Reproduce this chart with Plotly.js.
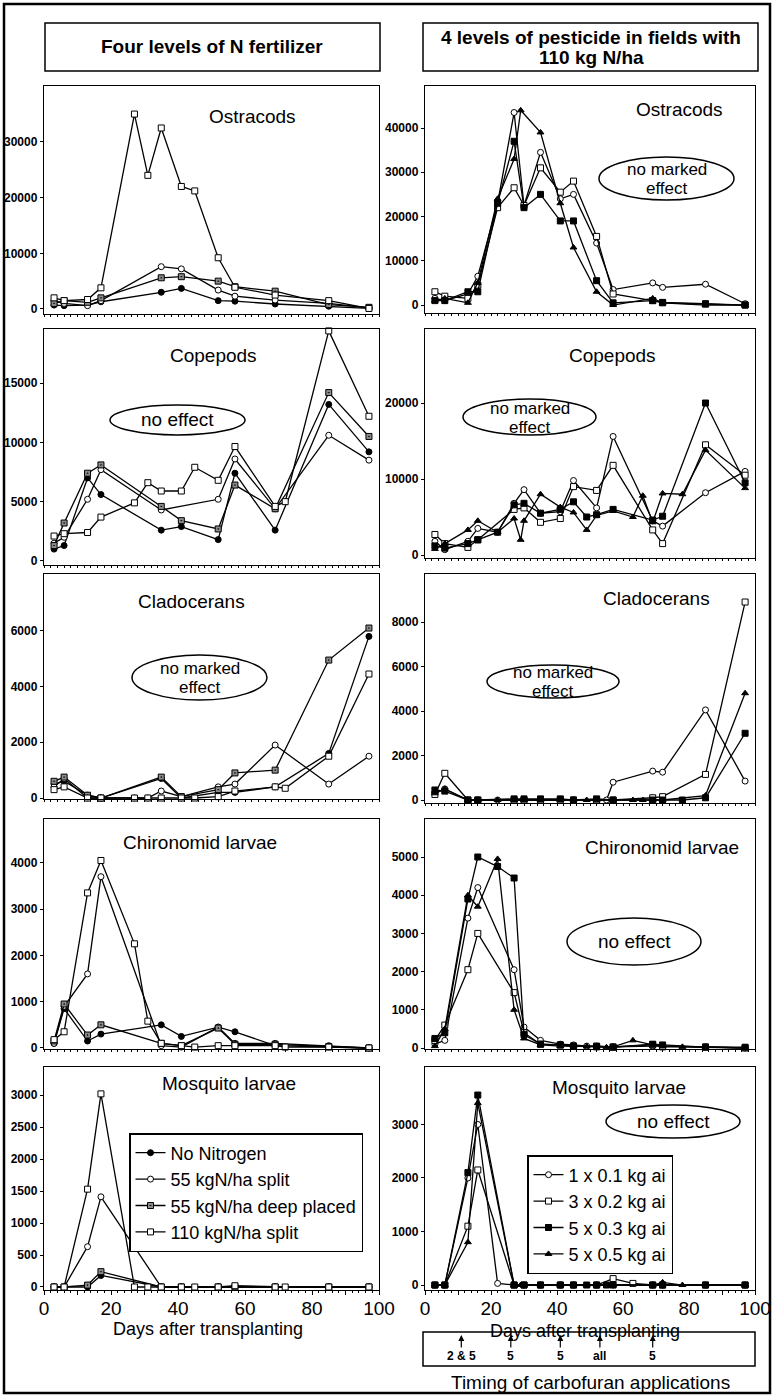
<!DOCTYPE html>
<html><head><meta charset="utf-8">
<script src="https://cdn.plot.ly/plotly-3.0.1.min.js"></script>
<style>html,body{margin:0;padding:0;background:#fff}#chart{width:774px;height:1395px}</style>
</head><body><div id="chart"></div>
<script>
// ---------------- DATA ----------------
const L_DAYS = [3, 6, 13, 17, 27, 31, 35, 41, 45, 52, 57, 69, 72, 85, 97];
const R_DAYS = [3, 6, 13, 16, 22, 27, 29, 30, 35, 41, 45, 49, 52, 55, 57, 63, 66, 69, 72, 78, 85, 97];
const L_NAMES = ["No Nitrogen", "55 kgN/ha split", "55 kgN/ha deep placed", "110 kgN/ha split"];
const R_NAMES = ["1 x 0.1 kg ai", "3 x 0.2 kg ai", "5 x 0.3 kg ai", "5 x 0.5 kg ai"];
const TAXA = ["Ostracods", "Copepods", "Cladocerans", "Chironomid larvae", "Mosquito larvae"];

// Left column: four levels of N fertilizer
const ostraL_noN  = [700, 600, 700, 1300, null, null, 3000, 3700, null, 1500, 1400, 900, null, 500, 100];
const ostraL_s55  = [1500, 1000, 600, 1500, null, null, 7600, 7200, null, 3400, 2300, 1600, null, 1000, 200];
const ostraL_d55  = [1000, 1500, 1200, 2000, null, null, 5600, 5800, null, 5000, 4000, 3200, null, 800, 300];
const ostraL_s110 = [2000, 1500, 1700, 3800, 35000, 24000, 32500, 22000, 21200, 9200, 3900, 2500, null, 1500, 100];

const copeL_noN  = [1000, 1300, 7000, 5600, null, null, 2600, 2900, null, 1800, 7400, 2600, null, 13200, 9200];
const copeL_s55  = [1500, 2000, 5200, 7700, null, null, 4300, null, null, 5200, 8600, 4400, null, 10600, 8500];
const copeL_d55  = [1300, 3200, 7400, 8100, null, null, 4600, 3400, null, 2700, 6400, 4400, null, 14200, 10500];
const copeL_s110 = [2100, 2300, 2400, 3700, 4900, 6600, 5900, 5900, 7900, 6800, 9650, 4600, 5000, 19400, 12200];

const cladL_noN  = [500, 600, 100, 0, null, null, 700, 0, null, 200, 200, 400, null, 1600, 5800];
const cladL_s55  = [400, 700, 0, 0, 0, 0, 250, 50, null, 400, 500, 1900, null, 500, 1500];
const cladL_d55  = [600, 750, 100, 0, null, null, 750, 50, null, 300, 900, 1000, null, 4950, 6100];
const cladL_s110 = [300, 400, 0, 0, 0, 0, 0, 0, 0, 50, 250, 400, 350, 1500, 4450];

const chirL_noN  = [100, 850, 150, 300, null, null, 500, 250, null, 450, 350, 50, null, 30, 0];
const chirL_s55  = [100, 900, 1600, 3700, null, null, 50, 20, null, 450, 100, 100, null, 50, 0];
const chirL_d55  = [150, 950, 280, 500, null, null, 100, 50, null, 430, 80, 80, null, 30, 0];
const chirL_s110 = [180, 350, 3350, 4050, 2250, 580, 100, 50, 20, 50, 50, 50, 20, 20, 0];

const mosqL_noN  = [0, 0, 0, 180, null, null, 0, 0, null, 0, 0, 0, null, 0, 0];
const mosqL_s55  = [0, 0, 630, 1410, null, null, 0, 0, null, 0, 0, 0, null, 0, 0];
const mosqL_d55  = [0, 0, 30, 240, null, null, 0, 0, null, 0, 0, 0, null, 0, 0];
const mosqL_s110 = [0, 0, 1530, 3020, 0, 0, 0, 0, 0, 0, 20, 0, 0, 0, 0];

// Right column: four levels of pesticide
const ostraR_c01 = [1500, 1000, 2500, 6500, 23000, 43500, null, 22500, 34500, 24000, 25000, null, 14000, null, 3500, null, null, 5000, 4000, null, 4700, 300];
const ostraR_c02 = [3000, 2000, 1500, 4500, 22000, 26500, null, 22500, 31000, 25500, 28000, null, 15500, null, 2500, null, null, 1000, 500, null, 200, 0];
const ostraR_c03 = [1000, 1000, 3000, 3000, 23000, 37000, null, 22000, 25000, 19000, 19000, null, 5500, null, 500, null, null, 1000, 600, null, 300, 0];
const ostraR_c05 = [1000, 1500, 500, 5000, 24000, 33000, 44000, null, 39000, 23000, 13000, null, 3000, null, 0, null, null, 1500, 500, null, 0, 0];

const copeR_c01 = [1800, 700, 1800, 3500, 3000, 6800, null, 8600, 5500, 5700, 9800, null, 6200, null, 15600, null, null, 4500, 3800, null, 8200, 11000];
const copeR_c02 = [2700, 1500, 1000, 2000, null, 6000, null, 6200, 4300, 4800, 9000, null, 8500, null, 11800, null, null, 3300, 1500, null, 14500, 10500];
const copeR_c03 = [1200, 900, 1500, 2000, 3000, 6600, null, 6800, 5500, 6000, 7000, 5000, 5300, null, 6000, null, null, 4600, 5100, null, 20000, 9500];
const copeR_c05 = [800, 1500, 3300, 4500, 3000, 4800, 2000, 4500, 8000, 6300, 5600, 3300, 5200, null, 5800, 5000, 7800, 4300, 8100, 8000, 13800, 8800];

const cladR_c01 = [300, 500, 0, 0, 0, 0, null, 0, 0, 0, 0, null, 0, 0, 800, null, null, 1300, 1250, null, 4050, 850];
const cladR_c02 = [250, 1200, 0, 0, null, 0, null, 0, 0, 0, 0, null, 0, null, 0, null, null, 100, 150, null, 1150, 8900];
const cladR_c03 = [450, 400, 0, 0, null, 50, null, 50, 50, 50, 0, null, 50, null, 0, null, null, 0, 0, 0, 100, 3000];
const cladR_c05 = [300, 500, 0, 0, 0, 0, null, 0, 0, 0, 0, 0, 0, null, 0, 0, 0, 0, 0, null, 200, 4800];

const chirR_c01 = [100, 200, 3400, 4200, null, 2050, null, 550, 200, 100, 80, 50, 50, null, 30, null, null, 50, 50, null, 30, 0];
const chirR_c02 = [200, 600, 2050, 3000, null, 1450, null, 400, 100, 80, 50, null, 30, null, 30, null, null, 80, 30, null, 30, 0];
const chirR_c03 = [250, 400, 3900, 5000, 4750, 4450, null, 350, 100, 80, 50, null, 50, null, 20, null, null, 100, 80, null, 20, 20];
const chirR_c05 = [50, 500, 4000, 3700, 4950, 1000, null, 250, 80, 50, 50, 40, 40, 20, 30, 200, null, 80, 50, 30, 20, 0];

const mosqR_c01 = [0, 0, 2000, 3000, 30, 0, null, 0, 0, 0, 0, null, 0, null, 0, null, null, 0, 0, null, 0, 0];
const mosqR_c02 = [0, 0, 1100, 2150, null, 0, null, 0, 0, 0, 0, null, 0, null, 120, 30, null, 0, 0, null, 0, 0];
const mosqR_c03 = [0, 0, 2100, 3550, null, 0, null, 0, 0, 0, 0, 0, 0, 0, 0, null, null, 0, 0, null, 0, 0];
const mosqR_c05 = [0, 0, 800, 3400, null, 0, 0, 0, 0, 0, 0, 0, 0, null, 0, null, null, 0, 50, 0, 0, 0];

const APP_DAYS = [11, 26, 41, 53, 69];
const APP_LABELS = ["2 & 5", "5", "5", "all", "5"];

// ---------------- LAYOUT / STYLE ----------------
const W = 774, H = 1395;
const FONT = 'Liberation Sans, Arial, Helvetica, sans-serif';
const px = p => p / W;
const py = p => 1 - p / H;

const COLS = [{x0: 44, x1: 379}, {x0: 425, x1: 755}];
const LEFT_STYLE = [
  {symbol: 'circle', fill: 'black'},
  {symbol: 'circle', fill: 'white'},
  {symbol: 'square-dot', fill: '#8a8a8a'},
  {symbol: 'square', fill: 'white'}
];
const RIGHT_STYLE = [
  {symbol: 'circle', fill: 'white'},
  {symbol: 'square', fill: 'white'},
  {symbol: 'square', fill: 'black'},
  {symbol: 'triangle-up', fill: 'black'}
];

const PANELS = [
  {col: 0, row: 0, top: 86,   bot: 314,  range: [-900, 40040],  ticks: [0, 10000, 20000, 30000], series: [ostraL_noN, ostraL_s55, ostraL_d55, ostraL_s110], title: [252, 117]},
  {col: 1, row: 0, top: 86,   bot: 313,  range: [-1800, 49490], ticks: [0, 10000, 20000, 30000, 40000], series: [ostraR_c01, ostraR_c02, ostraR_c03, ostraR_c05], title: [679, 110]},
  {col: 0, row: 1, top: 329,  bot: 565,  range: [-340, 19560],  ticks: [0, 5000, 10000, 15000], series: [copeL_noN, copeL_s55, copeL_d55, copeL_s110], title: [213, 355]},
  {col: 1, row: 1, top: 329,  bot: 558,  range: [-395, 29740],  ticks: [0, 10000, 20000], series: [copeR_c01, copeR_c02, copeR_c03, copeR_c05], title: [612, 355]},
  {col: 0, row: 2, top: 574,  bot: 799,  range: [-36, 8040],    ticks: [0, 2000, 4000, 6000], series: [cladL_noN, cladL_s55, cladL_d55, cladL_s110], title: [191, 601]},
  {col: 1, row: 2, top: 574,  bot: 803,  range: [-135, 10160],  ticks: [0, 2000, 4000, 6000, 8000], series: [cladR_c01, cladR_c02, cladR_c03, cladR_c05], title: [656, 598]},
  {col: 0, row: 3, top: 819,  bot: 1049, range: [-22, 4946],    ticks: [0, 1000, 2000, 3000, 4000], series: [chirL_noN, chirL_s55, chirL_d55, chirL_s110], title: [200, 843]},
  {col: 1, row: 3, top: 819,  bot: 1049, range: [-26, 5995],    ticks: [0, 1000, 2000, 3000, 4000, 5000], series: [chirR_c01, chirR_c02, chirR_c03, chirR_c05], title: [662, 847]},
  {col: 0, row: 4, top: 1067, bot: 1290, range: [-47, 3440],    ticks: [0, 500, 1000, 1500, 2000, 2500, 3000], series: [mosqL_noN, mosqL_s55, mosqL_d55, mosqL_s110], title: [229, 1083]},
  {col: 1, row: 4, top: 1067, bot: 1290, range: [-93, 4074],    ticks: [0, 1000, 2000, 3000], series: [mosqR_c01, mosqR_c02, mosqR_c03, mosqR_c05], title: [619, 1087]}
];

const ELLIPSES = [
  {x0: 599, x1: 734, y0: 157, y1: 200, lines: ['no marked', 'effect']},
  {x0: 110, x1: 245, y0: 405, y1: 435, lines: ['no effect']},
  {x0: 463, x1: 596, y0: 399, y1: 435, lines: ['no marked', 'effect']},
  {x0: 132, x1: 267, y0: 655, y1: 700, lines: ['no marked', 'effect']},
  {x0: 487, x1: 619, y0: 665, y1: 698, lines: ['no marked', 'effect']},
  {x0: 567, x1: 701, y0: 918, y1: 965, lines: ['no effect']},
  {x0: 606, x1: 740, y0: 1105, y1: 1138, lines: ['no effect']}
];

const traces = [];
const legendBase = {xanchor: 'left', yanchor: 'top', bgcolor: 'white', bordercolor: 'black',
  borderwidth: 1.5, font: {size: 18, family: FONT}, itemwidth: 30, tracegroupgap: 0};
const layout = {
  width: W, height: H,
  margin: {l: 0, r: 0, t: 0, b: 0},
  paper_bgcolor: 'white', plot_bgcolor: 'white',
  font: {family: FONT, color: 'black'},
  showlegend: true,
  legend: Object.assign({x: px(129), y: py(1133)}, legendBase),
  legend2: Object.assign({x: px(527), y: py(1155)}, legendBase),
  shapes: [], annotations: []
};

const XTICKS = [0, 10, 20, 30, 40, 50, 60, 70, 80, 90, 100];

PANELS.forEach((p, i) => {
  const n = i + 1;
  const sfx = n === 1 ? '' : String(n);
  const c = COLS[p.col];
  const bottomRow = p.row === 4;
  layout['xaxis' + sfx] = {
    domain: [px(c.x0), px(c.x1)], range: [0, 100], anchor: 'y' + sfx,
    showline: true, mirror: true, linecolor: 'black', linewidth: 1.2,
    ticks: 'outside', ticklen: 4, tickwidth: 1, tickcolor: 'black',
    tickvals: XTICKS, ticktext: XTICKS.map(v => (bottomRow && v % 20 === 0) ? String(v) : ''),
    showticklabels: bottomRow, tickfont: {size: 19, family: FONT}, ticklabelstandoff: -3,
    minor: {dtick: 2, tick0: 0, ticklen: 2, ticks: 'outside', tickcolor: 'black', showgrid: false},
    showgrid: false, zeroline: false, fixedrange: true
  };
  layout['yaxis' + sfx] = {
    domain: [py(p.bot), py(p.top)], range: p.range, anchor: 'x' + sfx,
    showline: true, mirror: true, linecolor: 'black', linewidth: 1.2,
    ticks: 'outside', ticklen: 3, tickwidth: 1, tickcolor: 'black',
    tickvals: p.ticks, ticktext: p.ticks.map(String),
    tickfont: {size: 12, family: FONT, weight: 700},
    showgrid: false, zeroline: false, fixedrange: true
  };
  const styles = p.col === 0 ? LEFT_STYLE : RIGHT_STYLE;
  const names = p.col === 0 ? L_NAMES : R_NAMES;
  const days = p.col === 0 ? L_DAYS : R_DAYS;
  p.series.forEach((vals, k) => {
    traces.push({
      type: 'scatter', mode: 'lines+markers', x: days, y: vals, connectgaps: true,
      xaxis: 'x' + sfx, yaxis: 'y' + sfx, name: names[k],
      legend: p.col === 0 ? 'legend' : 'legend2',
      showlegend: p.row === 0, cliponaxis: false,
      line: {color: 'black', width: 1.3},
      marker: {symbol: styles[k].symbol, color: styles[k].fill, size: 6, line: {color: 'black', width: 1}}
    });
  });
  layout.annotations.push({
    xref: 'paper', yref: 'paper', x: px(p.title[0]), y: py(p.title[1]),
    xanchor: 'center', yanchor: 'middle', showarrow: false,
    text: TAXA[p.row], font: {size: 19, family: FONT}
  });
});

// outer frame & header boxes & timing box
const rect = (x0, y0, x1, y1, w) => ({type: 'rect', xref: 'paper', yref: 'paper',
  x0: px(x0), x1: px(x1), y0: py(y1), y1: py(y0), line: {color: 'black', width: w}, layer: 'above'});
layout.shapes.push(rect(4, 4, 770, 1393, 2.5));
layout.shapes.push(rect(45, 23, 380, 71, 1.5));
layout.shapes.push(rect(423, 23, 758, 71, 1.5));
layout.shapes.push(rect(423, 1332, 755, 1366, 1.5));

const textAt = (x, y, text, size, extra) => Object.assign({xref: 'paper', yref: 'paper', x: px(x), y: py(y),
  showarrow: false, xanchor: 'center', yanchor: 'middle', text: text, font: {size: size, family: FONT}}, extra || {});

layout.annotations.push(textAt(212, 47, '<b>Four levels of N fertilizer</b>', 19));
layout.annotations.push(textAt(591, 38, '<b>4 levels of pesticide in fields with</b>', 19));
layout.annotations.push(textAt(591, 58, '<b>110 kg N/ha</b>', 19));

ELLIPSES.forEach(e => {
  layout.shapes.push({type: 'circle', xref: 'paper', yref: 'paper', x0: px(e.x0), x1: px(e.x1),
    y0: py(e.y1), y1: py(e.y0), line: {color: 'black', width: 1.5}, fillcolor: 'white', layer: 'above'});
  const cx = (e.x0 + e.x1) / 2, cy = (e.y0 + e.y1) / 2;
  if (e.lines.length === 1) {
    layout.annotations.push(textAt(cx, cy, e.lines[0], 19));
  } else {
    layout.annotations.push(textAt(cx, cy - 9, e.lines[0], 17));
    layout.annotations.push(textAt(cx, cy + 10, e.lines[1], 17));
  }
});

// axis titles
layout.annotations.push(textAt(208, 1329, 'Days after transplanting', 18));
layout.annotations.push(textAt(585, 1331, 'Days after transplanting', 18));
layout.annotations.push(textAt(590, 1382, 'Timing of carbofuran applications', 19));

// carbofuran application arrows
APP_DAYS.forEach((d, k) => {
  layout.annotations.push({xref: 'x10', yref: 'paper', x: d, y: py(1335), ax: 0, ay: 21,
    showarrow: true, arrowhead: 2, arrowsize: 1, arrowwidth: 1.2, arrowcolor: 'black',
    text: '<b>' + APP_LABELS[k] + '</b>', font: {size: 12, family: FONT}});
});

Plotly.newPlot('chart', traces, layout, {staticPlot: true, displayModeBar: false});
</script>
</body></html>
